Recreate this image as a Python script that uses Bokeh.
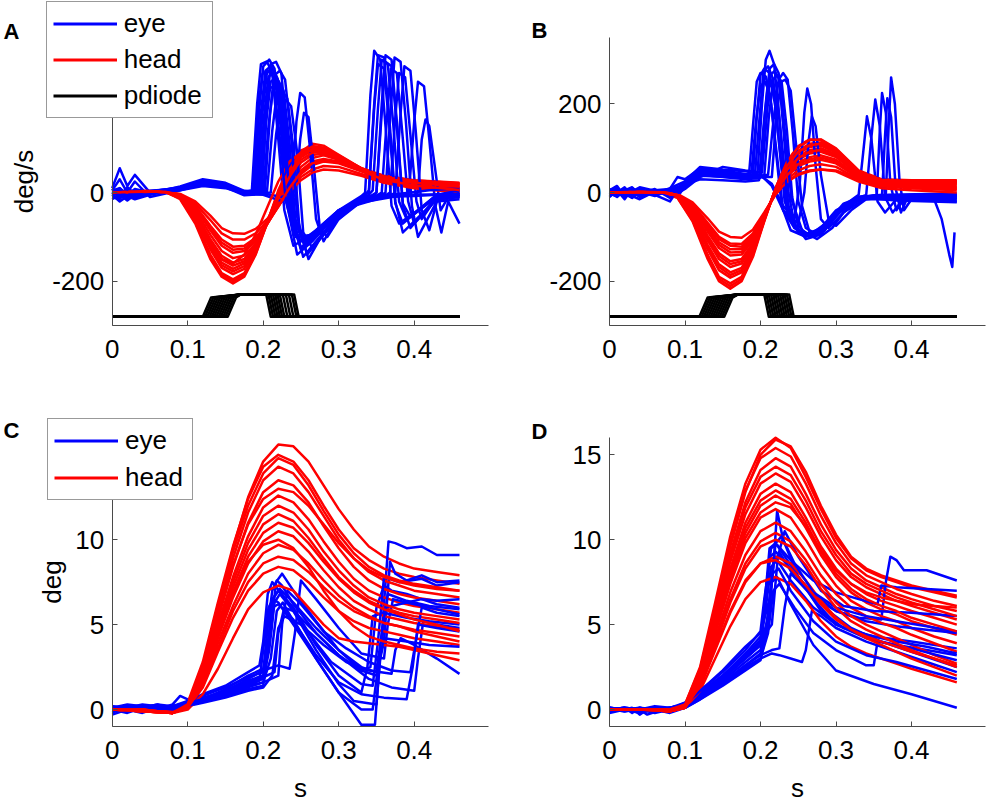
import numpy as np
from bokeh.plotting import figure
from bokeh.models import Range1d, FixedTicker, Legend, LegendItem, Label
from bokeh.layouts import column, row
from bokeh.embed import file_html
from bokeh.resources import INLINE

FONT = "Liberation Sans"
BLUE = "#0000ff"
RED = "#ff0000"
BLACK = "#000000"
AXC = "#4a4a4a"
LW = 2.5

# ---------------- ticks ----------------
XTICKS = [0, 0.1, 0.2, 0.3, 0.4]
XTICK_LABELS = ["0", "0.1", "0.2", "0.3", "0.4"]
X_BOUNDS = (0, 0.4985)
VEL_YTICKS = [-200, 0, 200]
VEL_YTICK_LABELS = ["-200", "0", "200"]
VEL_BOUNDS = (-300, 350)
POS_YTICKS = [0, 5, 10, 15]
POS_YTICK_LABELS = ["0", "5", "10", "15"]
POS_BOUNDS = (-1, 16)

# ---------------- panel A: velocities (deg/s) ----------------
A_EYE_T = [
    [0, .01, .02, .03, .05, .09, .12, .15, .175, .185, .192, .197, .205, .212, .22, .228, .24, .26, .30, .33, .335, .342, .347, .355, .362, .37, .38, .43, .46],
    [0, .01, .02, .03, .05, .09, .12, .15, .175, .188, .195, .2, .208, .215, .223, .232, .245, .265, .30, .335, .34, .347, .352, .36, .367, .375, .385, .43, .46],
    [0, .01, .02, .03, .05, .09, .12, .15, .175, .19, .197, .203, .21, .217, .225, .234, .248, .27, .30, .34, .345, .352, .357, .365, .372, .38, .39, .43, .46],
    [0, .01, .02, .03, .05, .09, .12, .15, .175, .194, .201, .207, .214, .221, .229, .238, .25, .27, .30, .345, .35, .357, .362, .37, .377, .385, .395, .43, .46],
    [0, .01, .02, .03, .05, .09, .12, .15, .175, .197, .204, .21, .217, .224, .232, .24, .253, .275, .31, .352, .357, .364, .369, .377, .384, .392, .40, .43, .46],
    [0, .01, .02, .03, .05, .09, .12, .15, .175, .2, .207, .213, .22, .227, .235, .243, .255, .28, .31, .357, .362, .369, .374, .382, .389, .397, .405, .43, .46],
    [0, .01, .02, .03, .05, .09, .12, .15, .175, .205, .212, .218, .225, .232, .24, .248, .26, .28, .31, .363, .368, .375, .38, .388, .395, .403, .41, .43, .46],
    [0, .01, .02, .03, .05, .09, .12, .15, .175, .21, .217, .223, .23, .237, .245, .253, .265, .285, .32, .388, .393, .4, .405, .413, .42, .428, .436, .445, .46],
    [0, .01, .02, .03, .05, .09, .12, .15, .175, .2, .225, .238, .244, .249, .255, .262, .27, .28, .30, .33, .4, .405, .41, .415, .42, .428, .435, .445, .46],
    [0, .01, .02, .03, .05, .09, .12, .15, .175, .2, .225, .243, .249, .254, .26, .267, .275, .285, .30, .33, .36, .40, .43, .46],
    [0, .01, .02, .03, .05, .09, .12, .15, .175, .198, .205, .21, .217, .224, .232, .24, .255, .28, .30, .33, .36, .40, .46],
    [0, .01, .02, .03, .05, .09, .12, .15, .175, .192, .199, .205, .212, .219, .227, .236, .25, .27, .30, .33, .37, .42, .46],
    [0, .01, .02, .03, .05, .09, .12, .15, .175, .202, .209, .215, .222, .229, .237, .245, .258, .28, .31, .335, .34, .347, .352, .36, .367, .375, .385, .43, .46],
    [0, .01, .02, .03, .05, .09, .12, .15, .175, .195, .202, .208, .215, .222, .23, .238, .25, .27, .30, .37, .375, .382, .387, .395, .402, .41, .42, .43, .46],
    [0, .01, .02, .03, .05, .09, .12, .15, .175, .186, .193, .199, .206, .213, .221, .23, .243, .265, .30, .345, .35, .357, .362, .37, .377, .385, .395, .43, .46],
]
A_EYE_V = [
    [10, 55, 15, 40, 0, 10, 22, 15, 2, 5, 200, 290, 296, 270, 120, -40, -120, -100, -40, -8, 0, 220, 320, 300, 150, -30, -70, -10, -5],
    [-10, -15, 5, -12, -3, 8, 25, 18, 0, 3, 190, 285, 300, 280, 150, -30, -140, -110, -45, -5, 5, 200, 310, 305, 170, -20, -90, -15, -10],
    [0, 5, -10, 0, 2, 12, 28, 20, -3, 0, 180, 275, 285, 265, 140, -40, -110, -90, -40, -5, 5, 190, 300, 290, 160, -20, -60, -5, 0],
    [-15, -5, -18, -5, 0, 6, 20, 14, -5, -2, 170, 262, 270, 250, 130, -50, -130, -95, -40, -5, 0, 180, 295, 285, 150, -30, -80, -10, -5],
    [5, 30, 0, 25, -10, 5, 18, 12, 3, 0, 160, 250, 260, 240, 120, -60, -145, -100, -35, -5, 0, 170, 280, 270, 140, -20, -70, -15, -10],
    [-5, -20, -8, -15, -5, 10, 24, 16, -2, 0, 150, 240, 250, 230, 110, -70, -120, -80, -35, -5, 0, 190, 305, 295, 160, -30, -100, -20, -15],
    [5, 10, -5, 8, 0, 8, 26, 18, 0, 2, 140, 222, 230, 212, 100, -80, -150, -90, -30, -5, 0, 170, 270, 260, 130, -20, -60, -10, -10],
    [-8, -12, 0, -10, -2, 6, 22, 15, -4, 0, 130, 205, 210, 195, 90, -90, -125, -85, -25, -5, 0, 160, 250, 240, 120, -30, -90, -20, -70],
    [2, 8, -6, 4, 0, 9, 24, 17, 1, -2, -10, 0, 160, 225, 215, 100, -60, -110, -50, -10, -5, 0, 120, 165, 150, 50, -40, -10, -5],
    [-5, 0, -15, -2, -3, 7, 21, 14, -3, -5, -20, -5, 120, 180, 170, 60, -80, -100, -60, -15, -10, -8, -5, -5],
    [0, -10, 10, -5, 3, 11, 27, 19, 1, 0, 200, 290, 295, 270, 120, -50, -110, -80, -60, -20, -10, -5, -3],
    [-5, 10, -8, 5, -2, 14, 30, 22, 4, 2, 180, 272, 280, 258, 120, -60, -125, -90, -45, -10, -5, 5, 10],
    [3, -8, 12, -3, 4, 9, 17, 12, -6, -3, 175, 265, 275, 255, 125, -55, -140, -95, -35, -5, 0, 190, 290, 280, 150, -25, -70, -5, 5],
    [-3, 5, -12, 6, 1, 5, 15, 10, -2, 0, 160, 235, 240, 220, 100, -70, -110, -85, -40, -5, 0, 180, 285, 275, 140, -40, -85, -20, 0],
    [8, -6, 3, -10, -4, 12, 26, 20, 2, 4, 185, 268, 275, 262, 140, -20, -100, -95, -50, -8, 0, 200, 310, 300, 160, -25, -55, -10, -8],
]
A_HEAD_T = [0, .04, .07, .09, .11, .13, .145, .16, .175, .19, .205, .22, .235, .25, .265, .28, .30, .33, .36, .40, .46]
A_HEAD_V = [
    [0, 2, 2, -15, -70, -150, -190, -205, -190, -140, -70, 5, 60, 95, 105, 100, 80, 50, 35, 25, 20],
    [0, 3, 3, -12, -62, -140, -182, -196, -182, -135, -68, 0, 55, 92, 110, 106, 85, 55, 38, 28, 22],
    [0, 2, 1, -10, -55, -128, -170, -184, -172, -130, -70, -10, 45, 85, 100, 98, 82, 55, 36, 26, 18],
    [0, 3, 2, -10, -50, -118, -158, -172, -160, -122, -65, -8, 42, 80, 95, 96, 80, 52, 34, 24, 15],
    [0, 4, 3, -8, -45, -105, -143, -158, -150, -118, -70, -18, 30, 68, 85, 88, 76, 50, 30, 20, 12],
    [0, 3, 3, -7, -40, -95, -132, -148, -142, -115, -72, -25, 22, 58, 78, 84, 74, 52, 32, 18, 10],
    [0, 2, 2, -6, -35, -85, -120, -136, -132, -110, -72, -30, 15, 50, 70, 76, 70, 50, 30, 18, 8],
    [0, 3, 2, -5, -30, -75, -106, -122, -120, -102, -70, -32, 8, 42, 62, 70, 66, 48, 28, 15, 5],
    [0, 2, 2, -4, -25, -62, -92, -106, -106, -92, -65, -30, 5, 35, 52, 60, 58, 42, 25, 12, 3],
    [0, 2, 1, -3, -20, -52, -80, -92, -93, -82, -60, -28, 2, 28, 45, 52, 50, 38, 22, 10, 0],
    [0, 2, 2, -8, -45, -110, -150, -160, -140, -95, -35, 25, 70, 90, 95, 90, 75, 50, 35, 25, 20],
    [0, 2, 1, -13, -66, -145, -186, -200, -186, -138, -70, -2, 52, 90, 104, 102, 84, 54, 37, 27, 21],
    [0, 3, 2, -11, -52, -123, -164, -178, -166, -126, -68, -9, 44, 82, 98, 97, 81, 54, 35, 25, 16],
    [0, 3, 3, -9, -48, -112, -151, -165, -155, -120, -68, -13, 36, 74, 90, 92, 78, 51, 32, 22, 13],
    [0, 2, 2, -5, -32, -80, -113, -129, -126, -106, -71, -31, 11, 46, 66, 73, 68, 49, 29, 16, 6],
]
A_PD_T = [
    [0, .120, .131, .17, .204, .210, .46],
    [0, .123, .134, .17, .207, .213, .46],
    [0, .126, .137, .17, .210, .216, .46],
    [0, .129, .140, .17, .213, .219, .46],
    [0, .132, .143, .17, .216, .222, .46],
    [0, .135, .146, .17, .219, .225, .46],
    [0, .138, .149, .17, .222, .228, .46],
    [0, .141, .152, .17, .226, .232, .46],
    [0, .144, .155, .17, .230, .236, .46],
    [0, .147, .158, .17, .234, .240, .46],
    [0, .150, .161, .17, .238, .244, .46],
    [0, .153, .164, .17, .241, .247, .46],
]
A_PD_V = [-280, -280, -237, -230, -230, -280, -280]

# ---------------- panel B: velocities (deg/s) ----------------
B_EYE_T = [
    [0, .01, .02, .03, .04, .06, .08, .09, .1, .12, .15, .18, .185, .19, .195, .2, .207, .214, .222, .23, .245, .26, .28, .30, .33, .38, .46],
    [0, .01, .02, .03, .04, .06, .08, .09, .1, .12, .15, .18, .19, .195, .2, .205, .212, .22, .228, .236, .25, .27, .29, .31, .33, .336, .341, .347, .355, .365, .38, .46],
    [0, .01, .02, .03, .04, .06, .08, .09, .1, .12, .15, .18, .196, .202, .207, .212, .218, .225, .232, .24, .255, .27, .29, .31, .34, .346, .352, .358, .365, .375, .39, .46],
    [0, .01, .02, .03, .04, .06, .08, .09, .1, .12, .15, .18, .2, .206, .212, .218, .224, .23, .237, .245, .26, .28, .30, .32, .354, .358, .361, .366, .372, .38, .39, .46],
    [0, .01, .02, .03, .04, .06, .08, .09, .1, .12, .15, .18, .205, .211, .217, .222, .228, .235, .242, .25, .265, .285, .30, .33, .361, .365, .368, .373, .379, .386, .395, .46],
    [0, .01, .02, .03, .04, .06, .08, .09, .1, .12, .15, .18, .21, .217, .224, .23, .236, .243, .25, .26, .275, .29, .31, .33, .366, .37, .373, .378, .384, .39, .40, .43, .44, .45, .454, .457],
    [0, .01, .02, .03, .04, .06, .08, .1, .12, .15, .18, .2, .215, .23, .245, .252, .258, .262, .267, .273, .28, .29, .31, .33, .36, .40, .46],
    [0, .01, .02, .03, .04, .06, .08, .1, .12, .15, .18, .2, .215, .23, .25, .258, .264, .268, .273, .28, .29, .30, .32, .34, .37, .40, .46],
    [0, .01, .02, .03, .04, .06, .08, .1, .12, .15, .18, .188, .194, .2, .206, .213, .22, .228, .24, .26, .28, .30, .33, .37, .46],
    [0, .01, .02, .03, .04, .06, .08, .1, .12, .15, .18, .2, .215, .221, .227, .233, .24, .247, .255, .265, .28, .30, .33, .37, .46],
    [0, .01, .02, .03, .04, .06, .08, .1, .12, .15, .18, .193, .199, .204, .21, .217, .224, .232, .245, .265, .285, .30, .33, .37, .46],
    [0, .01, .02, .03, .04, .06, .08, .1, .12, .15, .18, .198, .204, .209, .215, .222, .229, .237, .25, .27, .29, .31, .34, .38, .46],
    [0, .01, .02, .03, .04, .06, .08, .1, .12, .15, .18, .202, .208, .213, .219, .226, .233, .241, .255, .275, .295, .31, .34, .38, .46],
]
B_EYE_V = [
    [0, -10, 5, 12, -5, 3, -2, 8, 20, 45, 40, 38, 45, 150, 250, 270, 262, 200, 80, -40, -80, -95, -80, -40, -12, -10, -8],
    [5, 15, -8, 0, 10, -5, -20, 5, 25, 50, 42, 35, 38, 170, 265, 280, 270, 190, 60, -50, -90, -100, -70, -30, -5, 90, 172, 120, -20, -45, -15, -10],
    [-10, 5, -15, 8, 0, 5, 8, 35, 30, 55, 48, 40, 42, 200, 300, 320, 290, 170, 20, -60, -95, -90, -65, -25, -5, 110, 210, 150, -10, -45, -12, -12],
    [3, -5, 10, -3, 5, 0, 2, -10, 15, 40, 35, 30, 33, 180, 280, 290, 270, 150, 0, -70, -105, -95, -50, -20, -5, 140, 225, 180, 20, -40, -15, -15],
    [-5, 8, -3, -12, 2, -8, 5, 12, 22, 48, 45, 40, 38, 170, 255, 265, 250, 140, -10, -75, -100, -85, -50, -10, -5, 130, 213, 170, 10, -45, -10, -5],
    [8, 0, 12, -8, -15, 2, -5, 0, 18, 44, 38, 36, 40, 160, 255, 270, 255, 130, -20, -80, -95, -75, -35, -10, -5, 160, 260, 200, 30, -40, -15, -15, -60, -140, -168, -90],
    [0, 10, -5, 5, -8, 3, 0, 10, 42, 40, 35, 38, 20, -30, -60, 20, 180, 235, 200, 60, -60, -80, -45, -15, -8, -5, -5],
    [-3, -8, 6, -5, 3, -4, 8, 15, 46, 43, 37, 40, 15, -40, -70, 0, 120, 172, 150, 40, -60, -75, -40, -15, -10, -8, -8],
    [5, -3, 8, 2, -10, 6, -3, 20, 52, 50, 42, 45, 160, 240, 250, 220, 100, -30, -85, -100, -90, -50, -15, -12, -20],
    [-8, 4, -6, 10, 0, -2, 5, 12, 38, 36, 33, 35, 35, 170, 250, 255, 230, 110, -30, -90, -85, -45, -10, -5, -2],
    [2, -6, 4, -12, 6, -3, 10, 25, 58, 52, 48, 48, 175, 275, 285, 255, 120, -20, -80, -100, -85, -50, -15, -15, -18],
    [-4, 6, -10, 3, 12, 4, -8, 18, 30, 28, 25, 28, 150, 235, 245, 215, 100, -30, -90, -95, -70, -35, -10, -8, -12],
    [6, -2, 9, -6, -2, 8, -12, 8, 35, 58, 50, 45, 165, 265, 275, 250, 125, -15, -85, -105, -80, -45, -12, -18, -22],
]
B_HEAD_T = [0, .04, .07, .09, .11, .13, .145, .16, .175, .19, .205, .22, .235, .25, .265, .28, .30, .33, .36, .40, .46]
B_HEAD_V = [
    [0, 1, 0, -12, -65, -150, -200, -217, -200, -145, -65, 10, 70, 105, 120, 118, 95, 45, 28, 25, 25],
    [0, 2, 1, -10, -58, -140, -190, -205, -190, -138, -62, 10, 68, 102, 118, 120, 100, 50, 30, 28, 28],
    [0, 1, 1, -9, -52, -128, -175, -192, -180, -130, -60, 8, 62, 95, 110, 113, 95, 48, 28, 26, 26],
    [0, 2, 1, -8, -48, -118, -162, -180, -170, -125, -58, 6, 58, 88, 103, 106, 90, 45, 26, 24, 24],
    [0, 1, 0, -7, -43, -108, -150, -168, -160, -120, -56, 5, 54, 82, 96, 100, 86, 42, 24, 22, 22],
    [0, 2, 1, -6, -38, -97, -137, -155, -150, -114, -54, 4, 48, 75, 88, 92, 80, 40, 22, 20, 18],
    [0, 1, 1, -5, -34, -88, -125, -142, -140, -108, -52, 2, 42, 68, 80, 84, 74, 36, 20, 17, 15],
    [0, 1, 0, -5, -30, -78, -112, -128, -128, -100, -50, 0, 36, 60, 70, 74, 66, 33, 17, 14, 10],
    [0, 2, 1, -4, -26, -68, -100, -115, -116, -92, -47, -2, 30, 50, 60, 64, 58, 30, 14, 10, 5],
    [0, 1, 0, -3, -22, -58, -88, -100, -102, -84, -45, -4, 24, 40, 48, 52, 48, 25, 10, 5, 0],
    [0, 2, 1, -4, -28, -72, -105, -120, -122, -97, -50, -3, 25, 42, 50, 52, 50, 30, 15, 12, 8],
    [0, 1, 1, -11, -62, -145, -195, -211, -195, -141, -63, 10, 69, 103, 119, 119, 98, 48, 29, 26, 26],
    [0, 2, 1, -8, -50, -123, -168, -186, -175, -128, -59, 7, 60, 92, 107, 110, 92, 46, 27, 25, 25],
    [0, 1, 0, -6, -40, -102, -143, -161, -155, -117, -55, 4, 51, 78, 92, 96, 83, 41, 23, 21, 20],
    [0, 1, 1, -5, -32, -83, -118, -135, -134, -104, -51, 1, 39, 64, 75, 79, 70, 34, 18, 15, 12],
]
B_PD_T = [
    [0, .119, .130, .17, .205, .211, .46],
    [0, .122, .133, .17, .208, .214, .46],
    [0, .125, .136, .17, .211, .217, .46],
    [0, .128, .139, .17, .214, .220, .46],
    [0, .131, .142, .17, .217, .223, .46],
    [0, .134, .145, .17, .220, .226, .46],
    [0, .137, .148, .17, .223, .229, .46],
    [0, .140, .151, .17, .226, .232, .46],
    [0, .143, .154, .17, .229, .235, .46],
    [0, .146, .157, .17, .232, .238, .46],
    [0, .149, .160, .17, .235, .241, .46],
    [0, .152, .163, .17, .238, .244, .46],
]
B_PD_V = [-280, -280, -237, -230, -230, -280, -280]

# ---------------- panel C: positions (deg) ----------------
C_EYE_T = [
    [0, .02, .04, .06, .08, .09, .1, .12, .15, .18, .2, .205, .212, .218, .225, .24, .27, .30, .33, .342, .35, .36, .37, .39, .41, .43, .46],
    [0, .02, .04, .06, .08, .1, .12, .15, .18, .195, .2, .207, .213, .22, .24, .27, .30, .33, .348, .358, .366, .375, .39, .41, .43, .46],
    [0, .02, .04, .06, .08, .1, .12, .15, .18, .2, .21, .217, .225, .24, .27, .30, .33, .35, .36, .368, .375, .39, .41, .43, .46],
    [0, .02, .04, .06, .08, .1, .12, .15, .18, .2, .205, .212, .22, .24, .27, .30, .33, .338, .345, .36, .39, .42, .46],
    [0, .02, .04, .06, .08, .1, .12, .15, .18, .2, .215, .22, .228, .24, .27, .30, .34, .37, .4, .405, .412, .43, .46],
    [0, .02, .04, .06, .08, .1, .12, .15, .18, .2, .22, .235, .242, .25, .27, .30, .33, .36, .365, .372, .39, .42, .46],
    [0, .02, .04, .06, .08, .1, .12, .15, .18, .2, .208, .215, .222, .24, .27, .30, .32, .35, .355, .362, .38, .41, .43, .46],
    [0, .02, .04, .06, .08, .1, .12, .15, .18, .2, .212, .22, .228, .25, .28, .31, .34, .37, .375, .382, .40, .43, .46],
    [0, .02, .04, .06, .08, .1, .12, .15, .18, .195, .2, .206, .212, .23, .26, .29, .33, .345, .352, .36, .38, .41, .43, .46],
    [0, .02, .04, .06, .08, .1, .12, .15, .18, .2, .22, .225, .232, .25, .28, .31, .34, .37, .395, .402, .41, .43, .46],
    [0, .02, .04, .06, .08, .1, .12, .15, .18, .2, .205, .212, .22, .24, .27, .30, .33, .345, .352, .36, .39, .42, .46],
    [0, .02, .04, .06, .08, .1, .12, .15, .18, .2, .207, .214, .222, .24, .27, .30, .33, .35, .357, .365, .39, .42, .46],
    [0, .02, .04, .06, .08, .1, .12, .15, .18, .2, .21, .218, .226, .24, .27, .30, .33, .36, .39, .398, .405, .43, .46],
]
C_EYE_V = [
    [0, 0.2, 0.1, 0, 0.3, 0.8, 0.6, 0.8, 1.3, 1.9, 2.2, 4.5, 7.0, 7.6, 7.3, 6.2, 4.5, 3.2, 2.3, 2.5, 6.0, 7.3, 7.0, 6.8, 6.5, 6.2, 6.0],
    [-0.3, 0, -0.2, 0.1, 0, 0.2, 0.5, 0.9, 1.4, 1.7, 3.5, 6.0, 6.5, 6.3, 5.0, 3.0, 1.0, -0.9, -0.9, 5.0, 9.9, 9.8, 9.5, 9.6, 9.1, 9.1],
    [0.1, 0.3, 0.2, 0, 0.1, 0.3, 0.6, 1.2, 2.0, 2.4, 4.5, 7.5, 8.0, 7.0, 5.2, 3.5, 2.3, 2.0, 4.0, 8.7, 8.0, 7.6, 7.9, 7.5, 7.6],
    [-0.2, 0.2, 0, -0.1, 0.2, 0.4, 0.5, 0.8, 1.2, 1.4, 3.0, 6.5, 7.0, 6.0, 3.8, 2.0, 1.0, 2.5, 5.5, 5.7, 5.4, 5.2, 5.0],
    [0, 0.1, 0.3, 0.2, 0, 0.2, 0.6, 1.0, 1.6, 1.9, 2.2, 4.5, 6.0, 5.8, 4.5, 3.2, 1.8, 1.3, 1.1, 3.0, 5.2, 5.0, 4.8],
    [0.2, 0, 0.1, 0.3, 0.2, 0.5, 0.7, 1.1, 1.8, 2.3, 2.6, 2.4, 4.5, 7.6, 6.5, 4.8, 3.3, 3.0, 5.0, 6.5, 6.3, 6.0, 5.6],
    [0, -0.2, 0.1, 0, 0.1, 0.3, 0.5, 0.9, 1.5, 1.8, 3.5, 6.3, 6.8, 5.8, 3.5, 1.5, 0.5, 0.3, 3.0, 6.0, 6.2, 6.5, 6.4, 6.5],
    [0.1, 0, -0.1, 0.2, 0.1, 0.2, 0.4, 0.7, 1.1, 1.3, 2.0, 4.8, 5.5, 5.0, 3.8, 2.8, 2.3, 2.1, 3.5, 4.2, 3.8, 3.0, 2.1],
    [0, 0.2, 0.1, 0.3, 0, 0.5, 0.9, 1.4, 2.2, 2.6, 4.0, 6.8, 7.5, 6.5, 4.5, 2.8, 1.5, 1.4, 4.0, 7.8, 7.5, 7.7, 7.3, 7.5],
    [-0.1, 0.1, 0.2, 0, 0.1, 0.3, 0.5, 0.8, 1.3, 1.6, 2.0, 5.0, 7.0, 6.2, 4.6, 3.6, 2.8, 2.3, 2.2, 4.0, 6.0, 5.7, 5.5],
    [0.2, 0.1, -0.1, 0, 0.2, 0.4, 0.6, 1.0, 1.6, 1.9, 3.5, 6.0, 6.2, 5.3, 3.0, 1.0, 0.0, 0.0, 2.5, 4.2, 4.0, 3.8, 3.7],
    [0.1, -0.1, 0.2, 0.1, 0, 0.3, 0.6, 1.1, 1.7, 2.0, 4.0, 6.6, 7.1, 6.3, 4.8, 3.5, 2.5, 2.2, 4.5, 6.8, 6.4, 6.1, 5.9],
    [0, 0.1, -0.1, 0.2, 0.1, 0.2, 0.5, 0.9, 1.4, 1.6, 3.0, 5.8, 6.3, 5.2, 3.2, 1.6, 0.9, 0.7, 0.6, 2.5, 5.0, 4.8, 4.6],
]
C_HEAD_T = [0, .04, .08, .10, .12, .14, .16, .18, .20, .22, .24, .26, .28, .30, .32, .34, .36, .38, .40, .43, .46]
C_HEAD_V = [
    [0, -0.1, -0.2, 0.3, 2.5, 6.0, 9.5, 12.5, 14.6, 15.6, 15.5, 14.6, 13.2, 11.8, 10.6, 9.6, 9.0, 8.6, 8.3, 8.1, 7.9],
    [0, -0.1, -0.2, 0.4, 2.8, 6.3, 9.6, 12.4, 14.3, 15.0, 14.6, 13.5, 12.0, 10.6, 9.5, 8.8, 8.3, 8.0, 7.8, 7.6, 7.4],
    [0, 0, -0.1, 0.3, 2.4, 5.7, 8.9, 11.6, 13.5, 14.3, 13.9, 12.8, 11.4, 10.0, 8.9, 8.1, 7.6, 7.3, 7.0, 6.8, 6.6],
    [0, 0, -0.2, 0.2, 2.2, 5.3, 8.4, 11.0, 12.8, 13.5, 13.2, 12.2, 10.8, 9.5, 8.4, 7.6, 7.1, 6.8, 6.6, 6.4, 6.2],
    [0, -0.1, -0.2, 0.2, 2.0, 5.0, 7.8, 10.2, 11.9, 12.6, 12.2, 11.2, 9.9, 8.7, 7.7, 7.0, 6.6, 6.3, 6.1, 5.9, 5.7],
    [0, 0, -0.1, 0.2, 1.8, 4.6, 7.2, 9.4, 10.9, 11.5, 11.1, 10.1, 8.9, 7.8, 7.0, 6.4, 6.0, 5.7, 5.5, 5.3, 5.1],
    [0, -0.1, -0.2, 0.1, 1.6, 4.2, 6.6, 8.6, 9.9, 10.5, 10.2, 9.3, 8.2, 7.2, 6.4, 5.9, 5.5, 5.3, 5.1, 4.9, 4.7],
    [0, 0, -0.2, 0.1, 1.5, 3.9, 6.1, 8.0, 9.2, 9.7, 9.4, 8.6, 7.6, 6.7, 6.0, 5.5, 5.1, 4.9, 4.7, 4.5, 4.3],
    [0, -0.1, -0.2, 0.1, 1.3, 3.4, 5.4, 7.0, 8.0, 8.4, 8.2, 7.5, 6.6, 5.8, 5.2, 4.8, 4.6, 4.4, 4.2, 4.0, 3.8],
    [0, 0, -0.2, 0.0, 0.9, 2.4, 4.2, 5.9, 6.9, 7.3, 7.0, 6.0, 5.0, 4.2, 4.0, 3.9, 3.8, 3.7, 3.5, 3.2, 2.9],
    [0, -0.1, -0.1, 0.3, 2.3, 5.5, 8.5, 10.9, 12.4, 13.0, 12.8, 12.0, 10.9, 9.8, 8.9, 8.2, 7.8, 7.5, 7.3, 7.1, 7.0],
    [0, 0, -0.2, 0.2, 1.7, 4.3, 6.8, 8.7, 9.7, 10.0, 9.5, 8.4, 7.0, 5.8, 4.9, 4.3, 4.0, 3.8, 3.6, 3.4, 3.3],
    [0, -0.1, -0.2, 0.3, 2.6, 6.1, 9.3, 12.0, 13.9, 14.8, 14.4, 13.2, 11.7, 10.3, 9.2, 8.4, 7.9, 7.6, 7.4, 7.2, 7.0],
    [0, 0, -0.2, 0.2, 1.9, 4.8, 7.5, 9.8, 11.4, 12.0, 11.6, 10.6, 9.3, 8.2, 7.3, 6.6, 6.2, 5.9, 5.7, 5.5, 5.3],
    [0, -0.1, -0.2, 0.2, 1.7, 4.4, 6.9, 9.0, 10.4, 11.0, 10.7, 9.8, 8.7, 7.7, 6.9, 6.3, 5.9, 5.6, 5.3, 5.0, 4.6],
    [0, 0, -0.2, 0.1, 1.4, 3.6, 5.8, 7.5, 8.6, 9.0, 8.8, 8.1, 7.2, 6.4, 5.8, 5.4, 5.1, 4.9, 4.6, 4.3, 4.0],
]

# ---------------- panel D: positions (deg) ----------------
D_EYE_T = [
    [0, .02, .03, .04, .05, .07, .09, .1, .12, .15, .18, .2, .205, .212, .22, .24, .27, .30, .34, .38, .42, .46],
    [0, .02, .03, .04, .05, .07, .09, .1, .12, .15, .18, .2, .21, .218, .222, .23, .25, .28, .31, .35, .40, .46],
    [0, .02, .04, .05, .07, .09, .1, .12, .15, .18, .2, .215, .225, .24, .255, .26, .268, .28, .30, .34, .38, .42, .46],
    [0, .02, .04, .06, .08, .1, .12, .15, .18, .2, .215, .225, .232, .24, .26, .29, .32, .36, .40, .46],
    [0, .02, .04, .06, .08, .1, .12, .15, .18, .2, .205, .213, .22, .24, .27, .30, .33, .36, .366, .372, .38, .39, .42, .46],
    [0, .02, .04, .06, .08, .1, .12, .15, .18, .2, .208, .215, .222, .24, .27, .30, .35, .40, .46],
    [0, .02, .04, .06, .08, .1, .12, .15, .18, .2, .206, .214, .222, .24, .27, .30, .33, .355, .36, .38, .42, .46],
    [0, .02, .04, .06, .08, .1, .12, .15, .18, .2, .21, .218, .226, .245, .27, .30, .34, .38, .42, .46],
    [0, .02, .04, .06, .08, .1, .12, .15, .18, .2, .215, .223, .232, .25, .28, .31, .35, .40, .46],
    [0, .02, .04, .06, .08, .1, .12, .15, .18, .2, .21, .217, .225, .245, .27, .30, .34, .35, .355, .40, .46],
    [0, .02, .04, .06, .08, .1, .12, .15, .18, .2, .207, .214, .222, .24, .27, .30, .34, .38, .42, .46],
    [0, .02, .04, .06, .08, .1, .12, .15, .18, .2, .212, .22, .228, .245, .27, .30, .34, .38, .42, .46],
    [0, .02, .04, .06, .08, .1, .12, .15, .18, .2, .208, .216, .224, .24, .27, .30, .34, .38, .42, .46],
]
D_EYE_V = [
    [0, 0.1, -0.2, 0.1, 0, 0, 0.2, 0.4, 0.9, 1.8, 3.0, 3.8, 6.0, 9.5, 9.8, 8.5, 6.5, 5.0, 4.2, 3.8, 3.5, 3.2],
    [0.1, 0, 0.1, -0.3, 0, 0.1, 0, 0.3, 1.0, 2.0, 3.3, 4.3, 5.0, 9.0, 11.7, 10.0, 7.8, 5.8, 4.8, 4.3, 4.0, 3.6],
    [0, -0.1, 0, -0.3, 0, 0.1, 0.2, 0.7, 1.5, 2.5, 3.0, 3.3, 3.2, 3.0, 2.8, 3.5, 5.8, 5.5, 4.8, 4.0, 3.4, 2.8, 2.2],
    [0, 0.1, -0.2, 0.1, 0, 0.3, 0.8, 1.6, 2.6, 3.2, 3.5, 3.6, 6.0, 8.0, 7.2, 5.8, 4.8, 4.0, 3.4, 2.5],
    [0.1, 0, 0.1, -0.1, 0.1, 0.4, 1.1, 2.2, 3.5, 4.6, 6.5, 9.0, 9.3, 8.3, 6.8, 5.8, 5.4, 5.3, 7.5, 9.0, 8.8, 8.2, 8.2, 7.6],
    [-0.2, 0, -0.1, 0, -0.2, 0.1, 0.6, 1.4, 2.3, 2.9, 4.5, 7.5, 7.8, 6.2, 3.8, 2.3, 1.5, 0.9, 0.1],
    [0, 0.1, 0, 0.2, 0.1, 0.3, 0.9, 1.9, 3.1, 4.0, 6.5, 9.5, 9.7, 8.8, 7.6, 6.9, 6.5, 6.2, 7.3, 7.2, 7.1, 7.0],
    [0.1, -0.1, 0.1, 0, 0.1, 0.2, 0.8, 1.7, 2.8, 3.5, 5.5, 8.8, 9.2, 7.8, 6.6, 5.8, 5.2, 4.9, 4.7, 4.5],
    [0, 0, -0.1, 0.1, 0, 0.3, 1.0, 2.0, 3.2, 4.1, 5.0, 9.0, 10.5, 9.0, 7.0, 6.1, 5.8, 5.7, 5.5],
    [0, 0.1, 0, -0.1, 0, 0.2, 0.7, 1.5, 2.4, 3.0, 4.5, 7.0, 7.4, 6.0, 4.5, 3.5, 2.6, 2.6, 4.0, 3.6, 2.9],
    [0, -0.1, 0, 0.1, 0, 0.2, 0.9, 1.9, 3.0, 3.8, 6.0, 8.4, 8.8, 7.6, 6.0, 5.0, 4.4, 4.0, 3.7, 3.3],
    [0.1, 0, -0.2, 0, 0.1, 0.3, 1.1, 2.3, 3.7, 4.5, 6.5, 9.8, 10.2, 8.6, 6.9, 6.0, 5.5, 5.2, 4.9, 4.6],
    [-0.1, 0.1, 0, -0.2, 0, 0.1, 0.6, 1.5, 2.6, 3.3, 5.0, 8.0, 8.3, 7.0, 5.2, 4.0, 3.2, 2.8, 2.3, 1.8],
]
D_HEAD_T = [0, .04, .08, .10, .12, .14, .16, .18, .20, .22, .24, .26, .28, .30, .32, .34, .36, .38, .40, .43, .46]
D_HEAD_V = [
    [0, 0, 0, 0.3, 2.5, 6.3, 10.2, 13.3, 15.3, 16.0, 15.4, 13.7, 11.8, 10.1, 8.9, 8.2, 7.8, 7.5, 7.2, 6.9, 6.6],
    [0, 0, 0, 0.2, 2.2, 5.8, 9.6, 12.8, 15.0, 15.9, 15.5, 14.0, 12.0, 10.3, 9.0, 8.3, 7.9, 7.6, 7.3, 7.0, 6.7],
    [0, 0, -0.1, 0.2, 2.1, 5.6, 9.2, 12.2, 14.1, 14.8, 14.3, 12.7, 10.9, 9.4, 8.3, 7.6, 7.2, 6.8, 6.5, 6.1, 5.8],
    [0, 0, 0, 0.2, 2.0, 5.3, 8.7, 11.5, 13.3, 13.9, 13.4, 11.9, 10.2, 8.8, 7.8, 7.2, 6.8, 6.4, 6.1, 5.7, 5.3],
    [0, 0, -0.1, 0.2, 1.9, 5.0, 8.3, 11.0, 12.7, 13.3, 12.8, 11.3, 9.6, 8.3, 7.4, 6.8, 6.4, 6.1, 5.8, 5.4, 5.0],
    [0, 0, 0, 0.2, 1.8, 4.8, 7.9, 10.4, 12.0, 12.6, 12.1, 10.7, 9.1, 7.8, 6.9, 6.3, 5.9, 5.6, 5.2, 4.8, 4.4],
    [0, 0, -0.1, 0.1, 1.7, 4.5, 7.4, 9.8, 11.3, 11.8, 11.3, 10.0, 8.5, 7.3, 6.4, 5.9, 5.5, 5.2, 4.8, 4.3, 3.9],
    [0, 0, 0, 0.1, 1.6, 4.2, 6.9, 9.1, 10.5, 11.0, 10.5, 9.3, 7.9, 6.8, 6.0, 5.5, 5.1, 4.8, 4.4, 3.9, 3.4],
    [0, 0, -0.1, 0.1, 1.5, 4.0, 6.5, 8.6, 9.9, 10.4, 9.9, 8.8, 7.4, 6.3, 5.5, 5.0, 4.6, 4.2, 3.8, 3.2, 2.7],
    [0, 0, 0, 0.1, 1.3, 3.5, 5.7, 7.5, 8.6, 9.0, 8.6, 7.6, 6.4, 5.4, 4.7, 4.2, 3.8, 3.4, 3.0, 2.5, 2.0],
    [0, 0, -0.1, 0.1, 1.1, 3.0, 4.9, 6.5, 7.5, 7.8, 7.4, 6.4, 5.2, 4.3, 3.7, 3.3, 3.0, 2.7, 2.4, 2.0, 1.6],
    [0, 0, 0, 0.2, 1.8, 4.7, 7.7, 10.1, 11.6, 12.2, 11.9, 10.8, 9.4, 8.2, 7.4, 6.9, 6.6, 6.4, 6.2, 6.1, 6.0],
    [0, 0, -0.1, 0.1, 1.4, 3.6, 5.8, 7.6, 8.6, 8.8, 8.3, 7.3, 6.2, 5.3, 4.7, 4.3, 4.0, 3.7, 3.4, 3.0, 2.6],
    [0, 0, 0, 0.3, 2.4, 6.0, 9.8, 12.9, 14.8, 15.4, 14.9, 13.3, 11.4, 9.8, 8.6, 7.9, 7.5, 7.1, 6.8, 6.4, 6.1],
    [0, 0, -0.1, 0.2, 2.1, 5.5, 9.0, 11.9, 13.7, 14.3, 13.8, 12.3, 10.5, 9.1, 8.0, 7.4, 7.0, 6.6, 6.3, 5.9, 5.5],
    [0, 0, 0, 0.2, 1.9, 4.9, 8.1, 10.7, 12.3, 12.9, 12.4, 11.0, 9.3, 8.0, 7.1, 6.5, 6.1, 5.8, 5.4, 5.0, 4.6],
    [0, 0, -0.1, 0.1, 1.5, 3.8, 6.3, 8.3, 9.6, 10.0, 9.6, 8.5, 7.1, 6.0, 5.2, 4.7, 4.3, 3.9, 3.5, 3.0, 2.5],
]

# ---------------- geometry (pixels) ----------------
PX_PER_S = 755.0                 # horizontal scale of every panel
FIG_W = 496
ROW1_H, ROW2_H = 400, 402
ROW1_AXIS, ROW2_AXIS = 325, 326  # x-axis line, px from the figure's top
LEFT_ORIGIN = (111.7, 113.0)     # px of t = 0 inside the left / right figure
VEL_PX = 288.0 / 650.0           # px per deg/s
POS_PX = 288.7 / 17.0            # px per deg
TICK_FS = "26px"
TEXT_FS = "26px"


def make_panel(height, axis_px, x0_px, ybounds, ypx, yticks, ylabels,
               ylabel=None, ylabel_standoff=12, xlabel=None):
    x_start = -x0_px / PX_PER_S
    x_end = (FIG_W - x0_px) / PX_PER_S
    y_start = ybounds[0] - (height - axis_px) / ypx
    y_end = ybounds[0] + axis_px / ypx
    p = figure(width=FIG_W, height=height,
               x_range=Range1d(x_start, x_end), y_range=Range1d(y_start, y_end),
               output_backend="svg", toolbar_location=None,
               min_border_left=0, min_border_right=0,
               min_border_top=0, min_border_bottom=0)
    p.grid.visible = False
    p.outline_line_color = None
    p.background_fill_color = "white"
    p.border_fill_color = "white"
    p.xaxis.ticker = FixedTicker(ticks=XTICKS)
    p.xaxis.major_label_overrides = dict(zip(XTICKS, XTICK_LABELS))
    p.xaxis.bounds = X_BOUNDS
    p.xaxis.fixed_location = ybounds[0]
    p.yaxis.ticker = FixedTicker(ticks=yticks)
    p.yaxis.major_label_overrides = dict(zip(yticks, ylabels))
    p.yaxis.bounds = ybounds
    p.yaxis.fixed_location = 0
    for ax in (p.xaxis[0], p.yaxis[0]):
        ax.axis_line_color = AXC
        ax.axis_line_width = 1
        ax.major_tick_line_color = AXC
        ax.major_tick_in = 5
        ax.major_tick_out = 0
        ax.minor_tick_line_color = None
        ax.major_label_text_font = FONT
        ax.major_label_text_font_size = TICK_FS
        ax.major_label_text_color = "black"
        ax.axis_label_text_font = FONT
        ax.axis_label_text_font_size = TEXT_FS
        ax.axis_label_text_font_style = "normal"
        ax.axis_label_text_color = "black"
    p.xaxis.major_label_standoff = 14
    p.yaxis.major_label_standoff = 8
    if ylabel:
        p.yaxis.axis_label = ylabel
        p.yaxis.axis_label_standoff = ylabel_standoff
    if xlabel:
        p.xaxis.axis_label = xlabel
        p.xaxis.axis_label_standoff = 11
    return p


def draw_traces(p, eye_t, eye_v, head_t, head_v):
    n = max(len(eye_v), len(head_v))
    for i in range(n):
        if i < len(eye_v):
            p.line(x=eye_t[i], y=eye_v[i], line_color=BLUE, line_width=LW, line_join="round")
        if i < len(head_v):
            p.line(x=head_t, y=head_v[i], line_color=RED, line_width=LW, line_join="round")


def draw_pdiode(p, pd_t, pd_v):
    for ts in pd_t:
        p.line(x=ts, y=pd_v, line_color=BLACK, line_width=LW, line_join="round")


def add_legend(p, entries, loc, label_width, spacing, padding):
    items = []
    for name, color in entries:
        # legend-only swatch: a line with no visible points
        r = p.line(x=np.array([np.nan, np.nan]), y=np.array([np.nan, np.nan]),
                   line_color=color, line_width=3)
        items.append(LegendItem(label=name, renderers=[r]))
    leg = Legend(items=items, location=loc, orientation="vertical",
                 label_text_font=FONT, label_text_font_size=TEXT_FS,
                 label_text_color="black",
                 glyph_width=64, glyph_height=29, label_height=29,
                 label_width=label_width, label_standoff=7,
                 spacing=spacing, padding=padding, margin=0,
                 border_line_color="#333333", border_line_width=1,
                 background_fill_color="white", background_fill_alpha=1.0)
    p.add_layout(leg)


def letter(p, text, x, y_center):
    p.add_layout(Label(x=x, y=y_center, x_units="screen", y_units="screen", text=text,
                       text_font=FONT, text_font_size="22px", text_font_style="bold",
                       text_color="black", text_baseline="middle"))


# ---------------- panels ----------------
pA = make_panel(ROW1_H, ROW1_AXIS, LEFT_ORIGIN[0], VEL_BOUNDS, VEL_PX,
                VEL_YTICKS, VEL_YTICK_LABELS, ylabel="deg/s", ylabel_standoff=10)
draw_traces(pA, A_EYE_T, A_EYE_V, A_HEAD_T, A_HEAD_V)
draw_pdiode(pA, A_PD_T, A_PD_V)
add_legend(pA, [("eye", BLUE), ("head", RED), ("pdiode", BLACK)], (45.7, ROW1_H - 117.7), 82, 5, 6)
letter(pA, "A", 3, ROW1_H - 31)

pB = make_panel(ROW1_H, ROW1_AXIS, LEFT_ORIGIN[1], VEL_BOUNDS, VEL_PX,
                VEL_YTICKS, VEL_YTICK_LABELS)
draw_traces(pB, B_EYE_T, B_EYE_V, B_HEAD_T, B_HEAD_V)
draw_pdiode(pB, B_PD_T, B_PD_V)
letter(pB, "B", 35, ROW1_H - 29.5)

pC = make_panel(ROW2_H, ROW2_AXIS, LEFT_ORIGIN[0], POS_BOUNDS, POS_PX,
                POS_YTICKS, POS_YTICK_LABELS, ylabel="deg", ylabel_standoff=6, xlabel="s")
draw_traces(pC, C_EYE_T, C_EYE_V, C_HEAD_T, C_HEAD_V)
add_legend(pC, [("eye", BLUE), ("head", RED)], (47, ROW2_H - 100), 61, 6, 6)
letter(pC, "C", 3, ROW2_H - 30)

pD = make_panel(ROW2_H, ROW2_AXIS, LEFT_ORIGIN[1], POS_BOUNDS, POS_PX,
                POS_YTICKS, POS_YTICK_LABELS, xlabel="s")
draw_traces(pD, D_EYE_T, D_EYE_V, D_HEAD_T, D_HEAD_V)
letter(pD, "D", 35, ROW2_H - 30.8)

layout = column(row(pA, pB), row(pC, pD))
open("out.html", "w").write(file_html(layout, INLINE))
